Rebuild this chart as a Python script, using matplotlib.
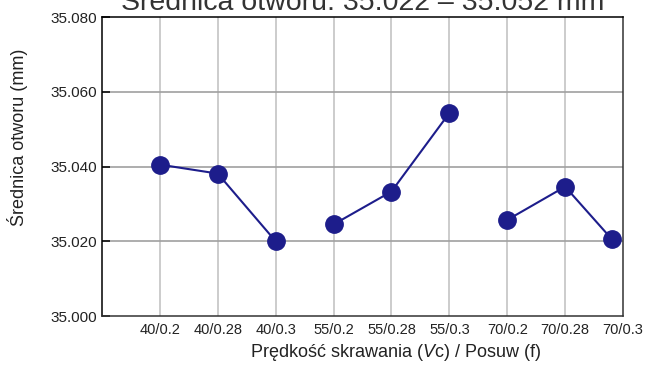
import numpy as np
import matplotlib.pyplot as plt

plt.rcParams['font.family'] = ['Liberation Sans', 'DejaVu Sans']
plt.rcParams['mathtext.fontset'] = 'custom'
plt.rcParams['mathtext.rm'] = 'Liberation Sans'
plt.rcParams['mathtext.it'] = 'Liberation Sans:italic'

# Vc / f combinations and measured hole diameter
labels = ['40/0.2', '40/0.28', '40/0.3',
          '55/0.2', '55/0.28', '55/0.3',
          '70/0.2', '70/0.28', '70/0.3']
diam = [35.0405, 35.0381, 35.0200,
        35.0245, 35.0333, 35.0543,
        35.0257, 35.0346, 35.0205]
group_size = 3

navy = '#1d1d8b'
text_col = '#222222'

fig = plt.figure(figsize=(6.52, 3.65), dpi=100)
ax = fig.add_axes([102/652, 1 - 316/365, 521/652, 299/365])

x = np.arange(1, len(labels) + 1, dtype=float)
# last marker sits a bit inside the right frame in the original
x[-1] -= 0.19

# one line per cutting speed, no join between groups
for g in range(0, len(labels), group_size):
    ax.plot(x[g:g + group_size], diam[g:g + group_size], color=navy, lw=1.5,
            marker='o', ms=12.5, mfc=navy, mec=navy, zorder=3)

ax.set_xlim(0, len(labels))
ax.set_ylim(35.0, 35.08)
ax.set_xticks(np.arange(1, len(labels) + 1))
ax.set_xticklabels(labels)
ax.set_yticks(np.arange(35.0, 35.0801, 0.02))
ax.set_yticklabels(['%.3f' % v for v in np.arange(35.0, 35.0801, 0.02)])

ax.tick_params(axis='x', length=0, pad=5, labelsize=10.5, labelcolor=text_col)
ax.tick_params(axis='y', direction='in', length=6, width=1.1, color='black',
               pad=3.5, labelsize=11, labelcolor=text_col)

for v in np.arange(1, len(labels)):
    ax.axvline(v, color='#c4c4c4', lw=1.2, zorder=1)
for v in np.arange(35.02, 35.079, 0.02):
    ax.axhline(v, color='#a0a0a0', lw=1.2, zorder=1)

for s in ['left', 'top']:
    ax.spines[s].set_color('black')
    ax.spines[s].set_linewidth(1.1)
for s in ['bottom', 'right']:
    ax.spines[s].set_color('#333333')
    ax.spines[s].set_linewidth(1.1)

# title runs off the top edge in the original too
fig.text(363/652, 1 - 10/365, 'Średnica otworu: 35.022 – 35.052 mm',
         ha='center', va='baseline', fontsize=20.5, color='#333333')
fig.text(395/652, 1 - 357/365, r'Prędkość skrawania ($\mathit{V}$c) / Posuw (f)',
         ha='center', va='baseline', fontsize=13, color=text_col)
fig.text(18/652, 1 - 137/365, 'Średnica otworu (mm)', rotation=90,
         ha='center', va='center', fontsize=13, color=text_col)

fig.savefig('out.png', dpi=100)
